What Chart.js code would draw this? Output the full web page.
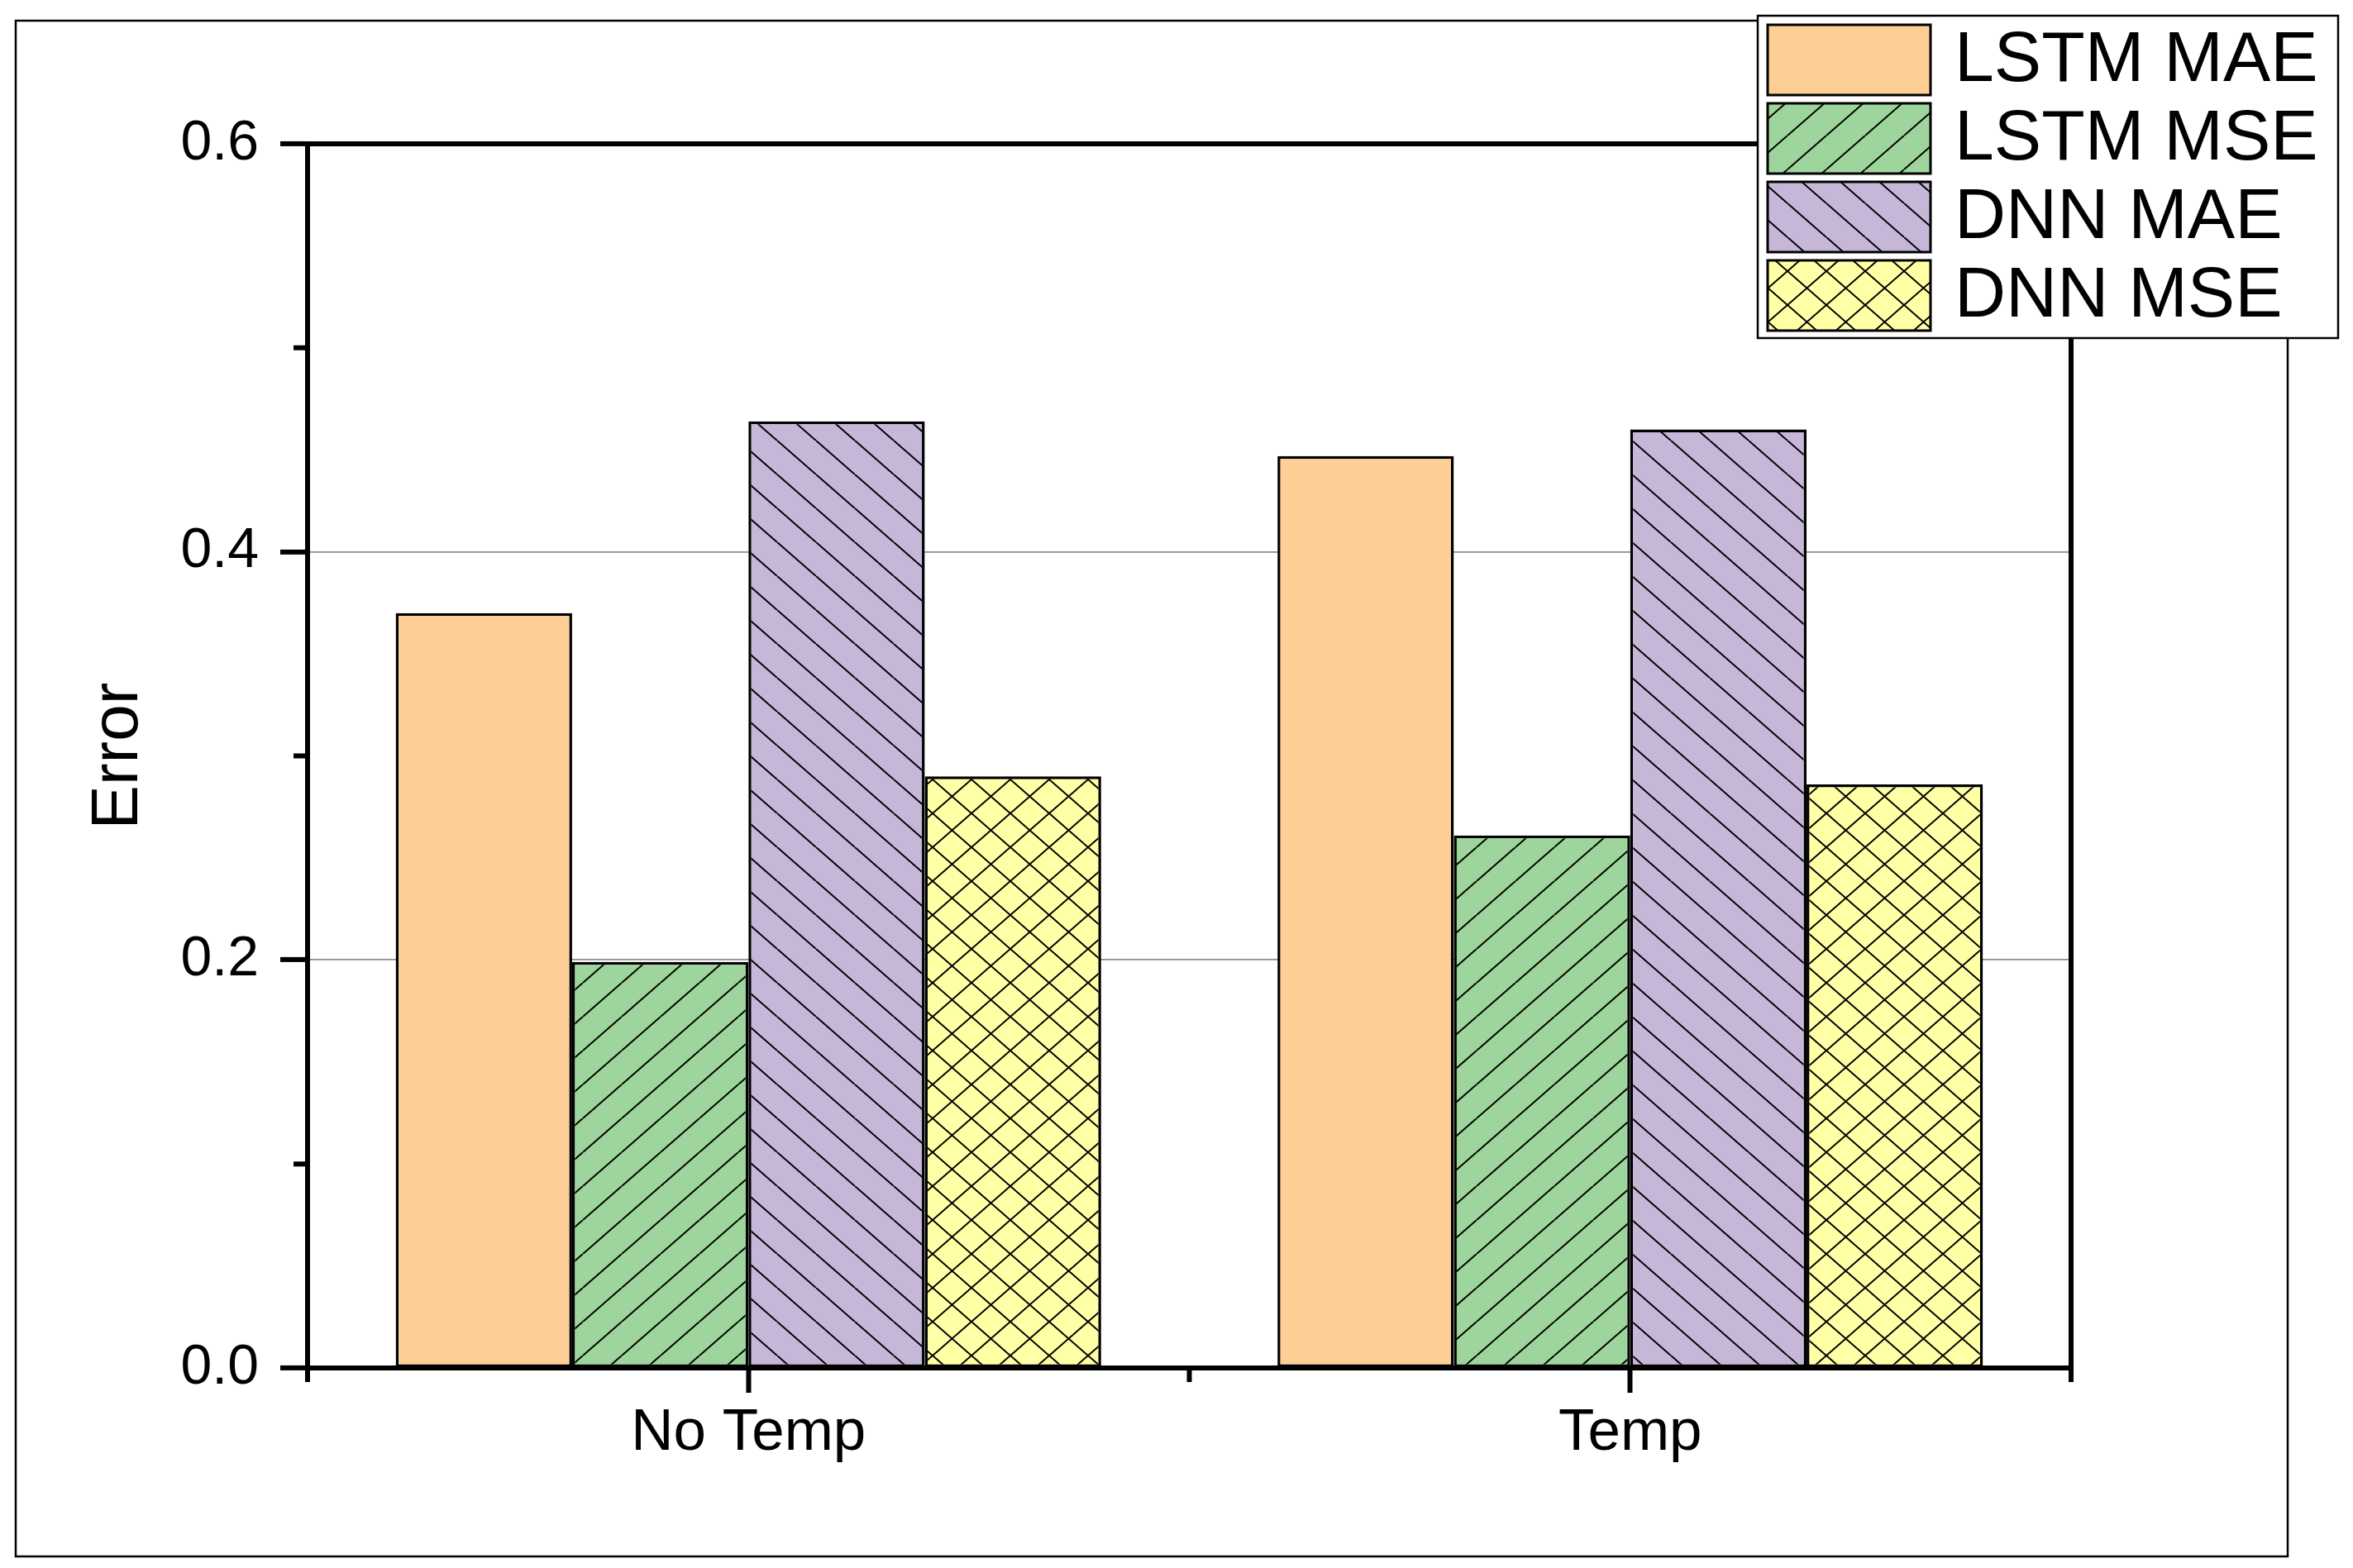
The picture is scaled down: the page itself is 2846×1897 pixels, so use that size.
<!DOCTYPE html>
<html>
<head>
<meta charset="utf-8">
<title>Error by model</title>
<script src="https://cdn.jsdelivr.net/npm/chart.js@4/dist/chart.umd.min.js"></script>
<style>
  html, body { margin: 0; padding: 0; background: #fff; }
  canvas { display: block; }
</style>
</head>
<body>
<canvas id="errorChart" width="2846" height="1897"></canvas>
<script>
// Data
const categories = ['No Temp', 'Temp'];
const seriesNames = ['LSTM MAE', 'LSTM MSE', 'DNN MAE', 'DNN MSE'];
const lstmMae = [0.370, 0.447];
const lstmMse = [0.199, 0.261];
const dnnMae = [0.464, 0.460];
const dnnMse = [0.290, 0.286];
const yTicks = [0.0, 0.2, 0.4, 0.6];
const yMinorTicks = [0.1, 0.3, 0.5];

const FONT = '"Liberation Sans", Arial, sans-serif';

// hatch fills
function makePattern(bg, kind) {
    const w = 47, h = 41;
    const c = document.createElement('canvas');
    c.width = w; c.height = h;
    const g = c.getContext('2d');
    g.fillStyle = bg;
    g.fillRect(0, 0, w, h);
    if (kind) {
        g.strokeStyle = '#000';
        g.lineWidth = 2;
        g.beginPath();
        [-w, 0, w].forEach(dx => {
            if (kind === 'fwd' || kind === 'cross') {
                g.moveTo(dx, h); g.lineTo(dx + w, 0);
            }
            if (kind === 'back' || kind === 'cross') {
                g.moveTo(dx, 0); g.lineTo(dx + w, h);
            }
        });
        g.stroke();
    }
    return g.createPattern(c, 'repeat');
}

const fills = [
    '#FDCE95',
    makePattern('#9DD59C', 'fwd'),
    makePattern('#C6B6D8', 'back'),
    makePattern('#FFFFA6', 'cross')
];

// outer frame + white background
const frame = {
    id: 'frame',
    beforeDraw(chart) {
        const ctx = chart.ctx;
        ctx.save();
        ctx.fillStyle = '#fff';
        ctx.fillRect(0, 0, chart.width, chart.height);
        ctx.strokeStyle = '#000';
        ctx.lineWidth = 2.5;
        ctx.strokeRect(19, 25, 2748, 1858);
        ctx.restore();
    }
};

// plot box and minor ticks
const plotBox = {
    id: 'plotBox',
    afterDatasetsDraw(chart) {
        const ctx = chart.ctx;
        const a = chart.chartArea;
        const x = chart.scales.x, y = chart.scales.y;
        ctx.save();
        ctx.strokeStyle = '#000';
        ctx.lineWidth = 6;
        ctx.strokeRect(a.left, a.top, a.right - a.left, a.bottom - a.top);
        ctx.beginPath();
        yMinorTicks.forEach(v => {
            const py = y.getPixelForValue(v);
            ctx.moveTo(a.left - 17, py); ctx.lineTo(a.left, py);
        });
        [-0.5, 0.5, 1.5].forEach(v => {
            const px = x.getPixelForValue(v);
            ctx.moveTo(px, a.bottom); ctx.lineTo(px, a.bottom + 17);
        });
        ctx.stroke();
        ctx.restore();
    }
};

// legend box in the top right corner
const legendBox = {
    id: 'legendBox',
    afterDraw(chart) {
        const ctx = chart.ctx;
        ctx.save();
        ctx.fillStyle = '#fff';
        ctx.fillRect(2126, 19, 702, 390);
        ctx.strokeStyle = '#000';
        ctx.lineWidth = 2.5;
        ctx.strokeRect(2126, 19, 702, 390);
        ctx.font = '86px ' + FONT;
        ctx.textBaseline = 'middle';
        chart.data.datasets.forEach((ds, i) => {
            const top = 30 + i * 95;
            ctx.fillStyle = ds.backgroundColor;
            ctx.fillRect(2138, top, 197, 85);
            ctx.lineWidth = 3;
            ctx.strokeRect(2138, top, 197, 85);
            ctx.fillStyle = '#000';
            ctx.fillText(ds.label, 2364, top + 44);
        });
        ctx.restore();
    }
};

const values = [lstmMae, lstmMse, dnnMae, dnnMse];

const ctx = document.getElementById('errorChart').getContext('2d');
const errorChart = new Chart(ctx, {
    type: 'bar',
    data: {
        labels: categories,
        datasets: seriesNames.map((name, i) => ({
            label: name,
            data: values[i],
            backgroundColor: fills[i],
            borderColor: '#000',
            borderWidth: 3.5,
            borderSkipped: false,
            categoryPercentage: 0.8,
            barPercentage: 1.0
        }))
    },
    options: {
        responsive: false,
        animation: false,
        layout: {
            padding: { left: 0, top: 174, right: 341, bottom: 0 }
        },
        plugins: {
            legend: { display: false },
            tooltip: { enabled: false }
        },
        scales: {
            x: {
                offset: true,
                grid: {
                    offset: false,
                    drawOnChartArea: false,
                    tickLength: 30,
                    tickWidth: 6,
                    tickColor: '#000'
                },
                border: { display: true, color: '#000', width: 6 },
                ticks: {
                    color: '#000',
                    padding: 7,
                    font: { family: FONT, size: 71 }
                },
                afterFit: function(scale) {
                    scale.height = 242;
                }
            },
            y: {
                min: 0,
                max: 0.6,
                afterBuildTicks: function(scale) {
                    scale.ticks = yTicks.map(v => ({ value: v }));
                },
                grid: {
                    color: function(c) {
                        const v = c.tick ? c.tick.value : 0;
                        return (v <= 0 || v >= 0.6) ? 'rgba(0,0,0,0)' : '#8c8c8c';
                    },
                    lineWidth: 1.8,
                    tickLength: 33,
                    tickWidth: 6,
                    tickColor: '#000'
                },
                border: { display: true, color: '#000', width: 6 },
                ticks: {
                    color: '#000',
                    padding: 26,
                    font: { family: FONT, size: 68 },
                    callback: function(value) {
                        return Number(value).toFixed(1);
                    }
                },
                title: {
                    display: true,
                    text: 'Error',
                    color: '#000',
                    padding: { top: 96, bottom: 0 },
                    font: { family: FONT, size: 80 }
                },
                afterFit: function(scale) {
                    scale.width = 372;
                }
            }
        }
    },
    plugins: [frame, plotBox, legendBox]
});
</script>
</body>
</html>
